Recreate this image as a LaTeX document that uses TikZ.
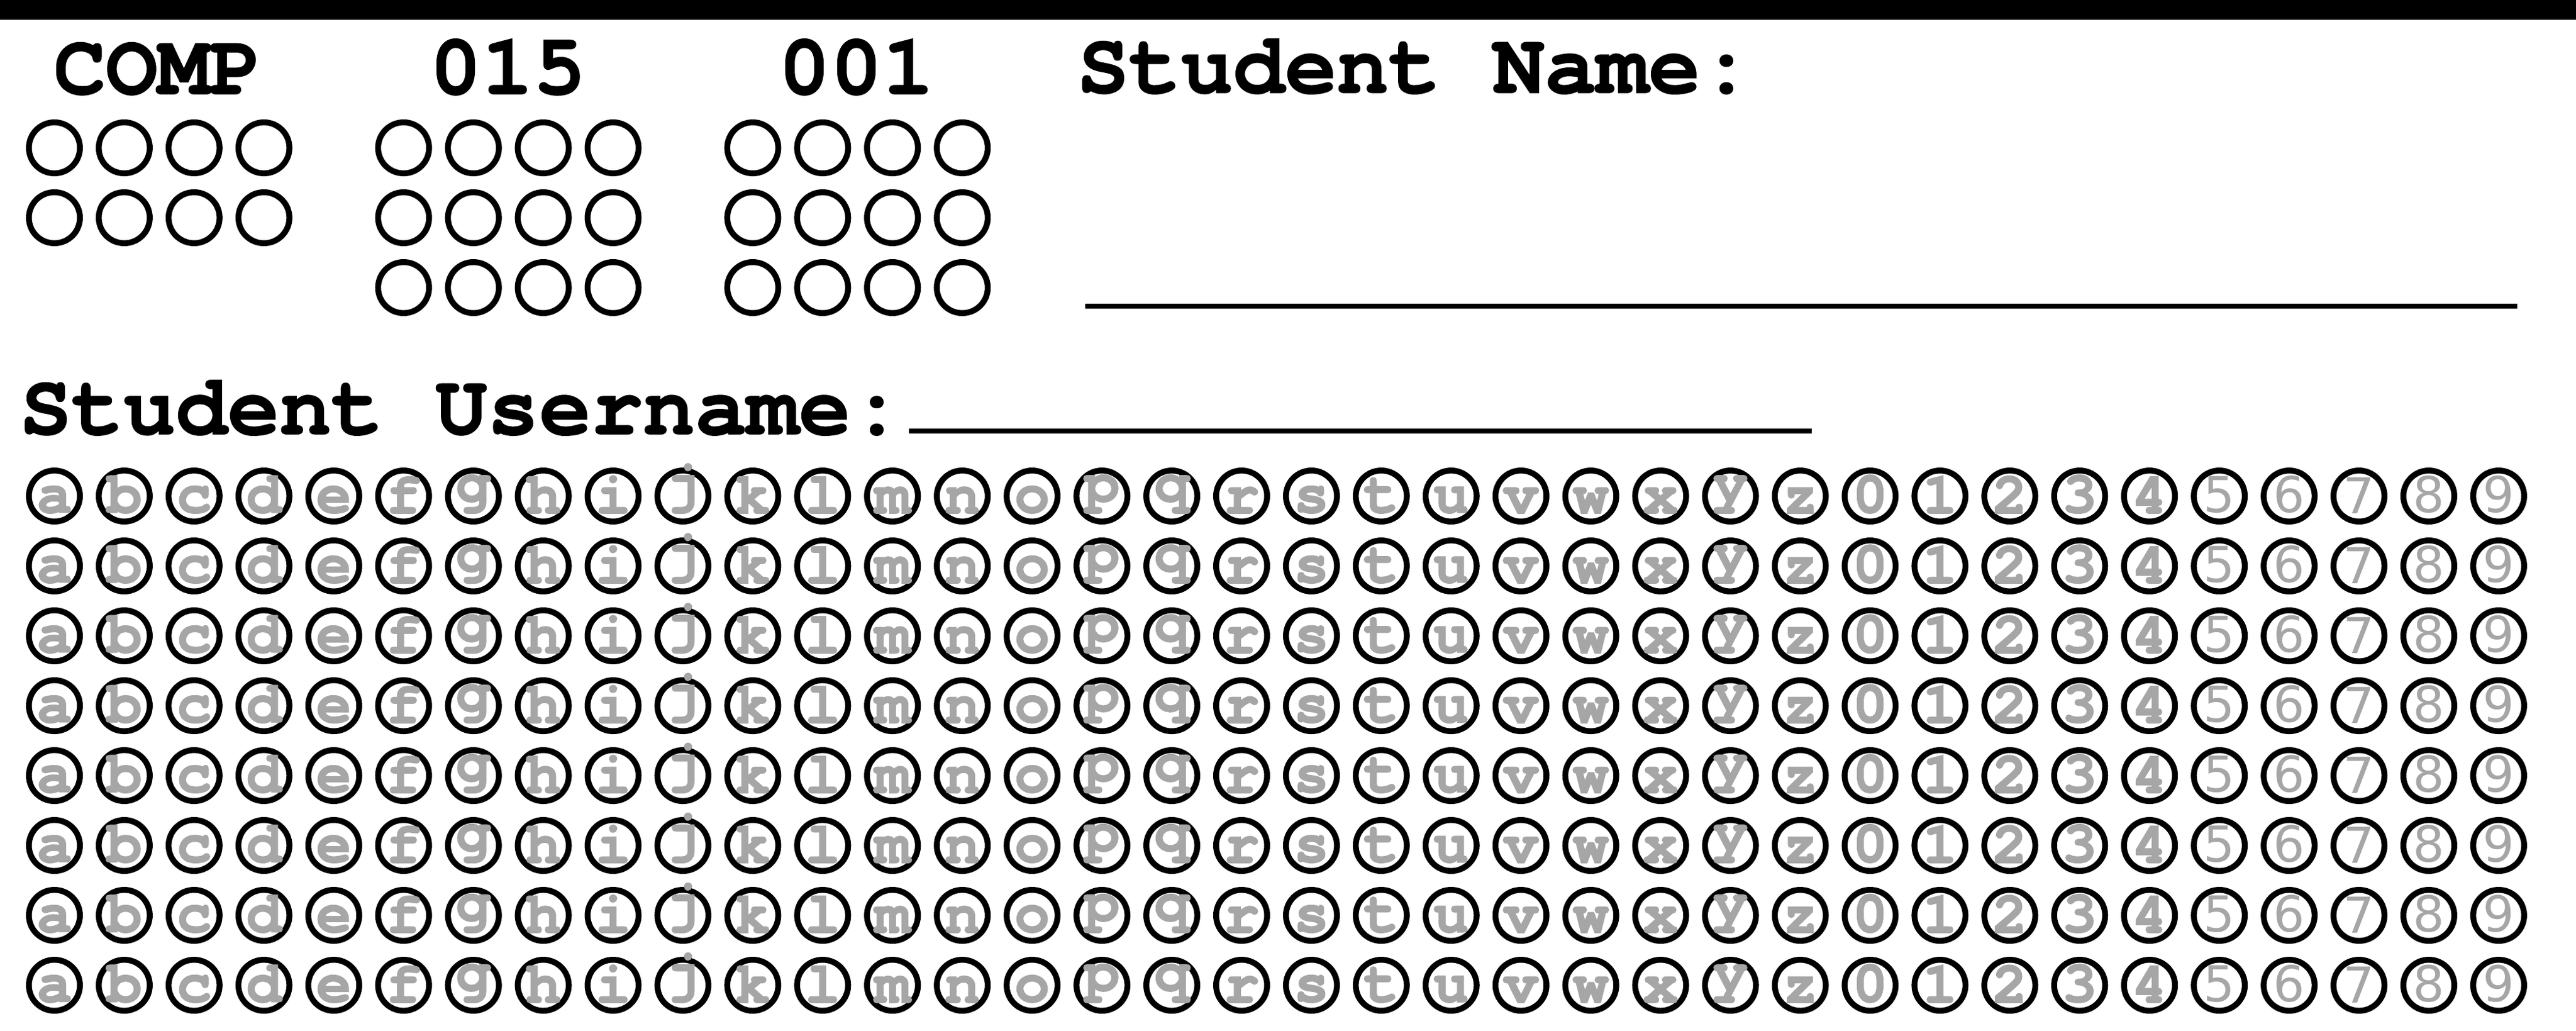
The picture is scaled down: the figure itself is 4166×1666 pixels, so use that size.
\documentclass[tikz,border=0pt]{standalone}
\usepackage{fontspec}
\newfontfamily\headfont{texgyrecursor-bold}[Extension=.otf,FakeBold=1]
\newfontfamily\bubblefont{texgyrecursor-bold}[Extension=.otf,FakeBold=2]
\newfontfamily\roundfont{DejaVu Sans}
\usepackage{tikz}
\definecolor{bubblegrey}{HTML}{A6A6A6}

\begin{document}
\begin{tikzpicture}[x=0.1pt,y=-0.1pt,
  bubble/.style={circle,draw,line width=0.95pt,minimum size=8.25pt,inner sep=0pt},
  mark text/.style={inner sep=0pt,anchor=south,text=bubblegrey,font=\bubblefont\fontsize{9.5}{9.5}\selectfont},
  round text/.style={mark text,font=\roundfont\fontsize{8}{8}\selectfont},
  heading/.style={inner sep=0pt,font=\headfont\fontsize{14}{16}\selectfont},
  rule/.style={line width=0.8pt}]
\useasboundingbox (0,0) rectangle (4166,1666);
\fill (0,0) rectangle (4166,32);
% course code, number, section
\node[heading,anchor=base] (comp) at (255,152) {COMP};
\node[heading,anchor=base] (num) at (821,152) {015};
\node[heading,anchor=base] (sec) at (1385,152) {001};
\foreach \r in {0,1}
  \foreach \c in {0,...,3}
    \node[bubble] (comp-\r-\c) at ({88+112.94*\c},{239+113*\r}) {};
\foreach \r in {0,1,2}
  \foreach \c in {0,...,3}{
    \node[bubble] (num-\r-\c) at ({88+112.94*(\c+5)},{239+113*\r}) {};
    \node[bubble] (sec-\r-\c) at ({88+112.94*(\c+10)},{239+113*\r}) {};
  }
% name
\node[heading,anchor=base west] (name) at (1740,150) {Student Name:};
\coordinate (name-l) at (1755,495);
\coordinate (name-r) at (4071,495);
\draw[rule] (name-l) -- (name-r);
% username
\node[heading,anchor=base west] (user) at (30,702) {Student Username:};
\coordinate (user-l) at (1470,697);
\coordinate (user-r) at (2930,697);
\draw[rule] (user-l) -- (user-r);
\foreach \r in {0,...,7}{
  \foreach \ch [count=\i from 0] in {a,...,z,0,1,2,3,4}{
    \node[bubble] (user-\r-\ch) at ({88+112.94*\i},{802+113*\r}) {};
    \node[mark text] (mark-\r-\ch) at ([yshift=-3pt]user-\r-\ch.center) {\ch};
  }
  \foreach \ch [count=\i from 31] in {5,...,9}{
    \node[bubble] (user-\r-\ch) at ({88+112.94*\i},{802+113*\r}) {};
    \node[round text] (mark-\r-\ch) at ([yshift=-3pt]user-\r-\ch.center) {\ch};
  }
}
\end{tikzpicture}
\end{document}
